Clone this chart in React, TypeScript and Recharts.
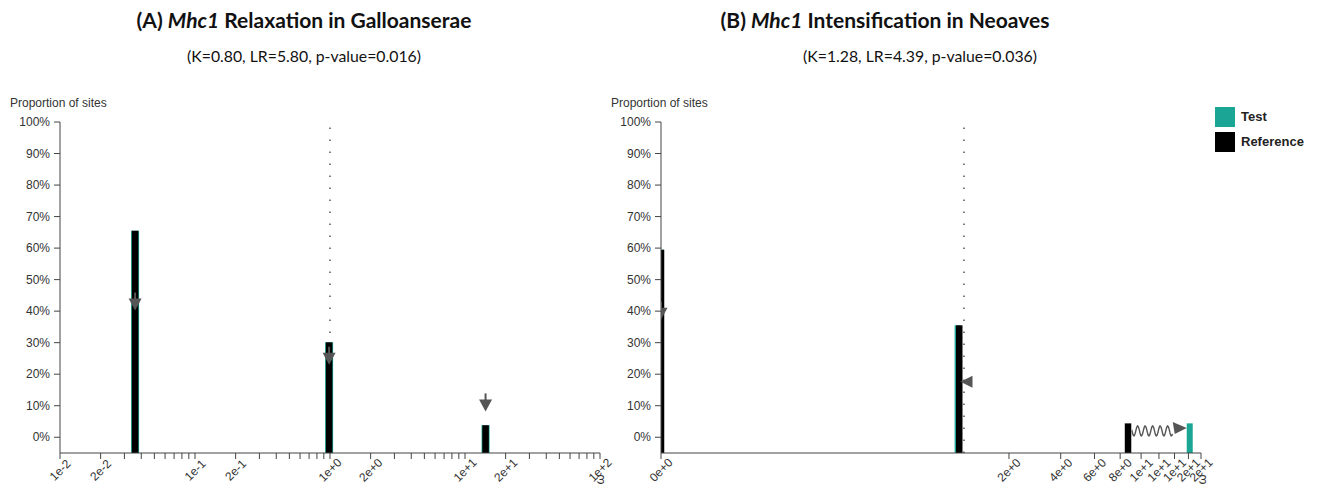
import React from "react";
import { ComposedChart, Line, Scatter, XAxis, YAxis, ReferenceLine } from "recharts";

const TEAL = "#1aa594";
const GREY = "#555";
const AXIS = "#444";
const FONT = "'Liberation Sans', Arial, sans-serif";
const TITLE_FONT = "Lato, 'Open Sans', sans-serif";

// shared proportion axis
const FLOOR = -0.05;
const yTicks = [0, 0.1, 0.2, 0.3, 0.4, 0.5, 0.6, 0.7, 0.8, 0.9, 1];

// (A) Galloanserae – log omega axis
const aRefOmega = [0.036, 0.985, 14.2];
const aRefProp = [0.655, 0.301, 0.038];
const aTestOmega = [0.036, 0.985, 14.2];
const aTestProp = [0.655, 0.301, 0.038];
const aArrowOmega = [0.036, 0.985, 14.2];
const aArrowTip = [0.402, 0.23, 0.082];
const aArrowDir = ["down", "down", "down"];
const aTicks = [
  0.01, 0.02, 0.03, 0.04, 0.05, 0.06, 0.07, 0.08, 0.09,
  0.1, 0.2, 0.3, 0.4, 0.5, 0.6, 0.7, 0.8, 0.9,
  1, 2, 3, 4, 5, 6, 7, 8, 9,
  10, 20, 30, 40, 50, 60, 70, 80, 90, 100,
];
const aLabelled = [0.01, 0.02, 0.1, 0.2, 1, 2, 10, 20, 100];

// (B) Neoaves – omega^0.2 axis
const bRefOmega = [0, 0.925, 8.71];
const bRefProp = [0.595, 0.355, 0.044];
const bTestOmega = [0, 0.9, 16.2];
const bTestProp = [0.595, 0.355, 0.044];
const bArrowOmega = [0, 0.945];
const bArrowTip = [0.373, 0.176];
const bArrowDir = ["down", "left"];
const bWave = { from: 8.71, to: 16.2, y: 0.02 };
const bTicks = [0, 2, 4, 6, 8, 10, 12, 14, 16, 18];
const bMax = 18;

const powX = (w: number) => Math.pow(w, 0.2);
const powInv = (x: number) => Math.pow(x, 5);
const ident = (w: number) => w;

function Arrow(props: any) {
  const { cx, cy, payload } = props;
  if (cx == null || cy == null) return <g />;
  if (payload.dir === "left") {
    return <polygon points={`${cx},${cy} ${cx + 12},${cy - 6} ${cx + 12},${cy + 6}`} fill={GREY} />;
  }
  return (
    <g>
      <line x1={cx} x2={cx} y1={cy - 18} y2={cy - 11} stroke={GREY} strokeWidth={2} />
      <polygon points={`${cx},${cy} ${cx - 6.5},${cy - 12} ${cx + 6.5},${cy - 12}`} fill={GREY} />
    </g>
  );
}

function Wave(props: any) {
  const { x1, x2, y1 } = props;
  const start = x1 + 4;
  const end = x2 - 3;
  const head = end - 14;
  let d = `M${start},${y1}`;
  for (let x = start; x <= head; x += 0.5) {
    d += ` L${x.toFixed(2)},${(y1 + 5 * Math.sin(((x - start) / 7.5) * 2 * Math.PI)).toFixed(2)}`;
  }
  return (
    <g>
      <path d={d} fill="none" stroke={GREY} strokeWidth={1.4} />
      <polygon points={`${end},${y1 - 3} ${head},${y1 - 9} ${head + 2},${y1 + 3}`} fill={GREY} />
    </g>
  );
}

interface PanelProps {
  left: number;
  refOmega: number[];
  refProp: number[];
  testOmega: number[];
  testProp: number[];
  arrowOmega: number[];
  arrowTip: number[];
  arrowDir: string[];
  toX: (w: number) => number;
  fromX: (x: number) => number;
  scale: "log" | "linear";
  domain: [number, number];
  ticks: number[];
  labelled: number[];
  refWidth: number;
  testWidth: number;
  wave?: { from: number; to: number; y: number };
}

function Panel(p: PanelProps) {
  const fmt = (v: number) => {
    const w = p.fromX(v);
    const hit = p.labelled.find((l) => Math.abs(l - w) < 1e-6 * Math.max(1, l));
    return hit === undefined ? "" : hit.toExponential(0);
  };
  const arrowData = p.arrowOmega.map((w, i) => ({ x: p.toX(w), y: p.arrowTip[i], dir: p.arrowDir[i] }));

  const XTick = (t: any) => {
    const label = fmt(t.payload.value);
    if (!label) return <g />;
    const cy = t.y + 9;
    return (
      <text x={t.x} y={cy} dy="0.35em" textAnchor="middle" fontSize={12} fill="#333" fontFamily={FONT}
        transform={`rotate(-45 ${t.x} ${cy})`}>
        {label}
      </text>
    );
  };

  return (
    <div style={{ position: "absolute", left: p.left, top: 0 }}>
      <ComposedChart width={620} height={493} margin={{ top: 122, right: 20, bottom: 0, left: 0 }}>
        <XAxis
          type="number"
          dataKey="x"
          scale={p.scale}
          domain={p.domain.map(p.toX) as [number, number]}
          ticks={p.ticks.map(p.toX)}
          interval={0}
          allowDataOverflow
          height={40}
          tickSize={6}
          stroke={AXIS}
          tick={XTick}
        />
        <YAxis
          type="number"
          dataKey="y"
          domain={[FLOOR, 1]}
          ticks={yTicks}
          interval={0}
          allowDataOverflow
          width={60}
          tickSize={6}
          tickMargin={4}
          stroke={AXIS}
          tickFormatter={(v: number) => `${Math.round(v * 100)}%`}
          tick={{ fontSize: 12, fill: "#333", fontFamily: FONT }}
        />
        <ReferenceLine x={p.toX(1)} stroke={GREY} strokeWidth={1.5} strokeDasharray="1.5 10.5" />
        {p.testOmega.map((w, i) => (
          <Line
            key={"t" + i}
            data={[{ x: p.toX(w), y: FLOOR }, { x: p.toX(w), y: p.testProp[i] }]}
            dataKey="y"
            type="linear"
            stroke={TEAL}
            strokeWidth={p.testWidth}
            strokeLinecap="butt"
            dot={false}
            activeDot={false}
            isAnimationActive={false}
          />
        ))}
        {p.refOmega.map((w, i) => (
          <Line
            key={"r" + i}
            data={[{ x: p.toX(w), y: FLOOR }, { x: p.toX(w), y: p.refProp[i] }]}
            dataKey="y"
            type="linear"
            stroke="#000"
            strokeWidth={p.refWidth}
            strokeLinecap="butt"
            dot={false}
            activeDot={false}
            isAnimationActive={false}
          />
        ))}
        {p.wave && (
          <ReferenceLine
            segment={[
              { x: p.toX(p.wave.from), y: p.wave.y },
              { x: p.toX(p.wave.to), y: p.wave.y },
            ]}
            shape={(s: any) => <Wave {...s} />}
          />
        )}
        <Scatter data={arrowData} dataKey="y" shape={(s: any) => <Arrow {...s} />} isAnimationActive={false} />
      </ComposedChart>
    </div>
  );
}

const abs = (left: number, top: number, extra: React.CSSProperties = {}): React.CSSProperties => ({
  position: "absolute",
  left,
  top,
  whiteSpace: "nowrap",
  ...extra,
});

export default function App() {
  return (
    <div style={{ position: "absolute", left: 0, top: 0, width: 1317, height: 493, background: "#fff", overflow: "hidden" }}>
      <div style={abs(304, 7, { transform: "translateX(-50%)", fontFamily: TITLE_FONT, fontWeight: 700, fontSize: 21, color: "#111" })}>
        (A) <i>Mhc1</i> Relaxation in Galloanserae
      </div>
      <div style={abs(304, 46, { transform: "translateX(-50%)", fontFamily: TITLE_FONT, fontSize: 15.8, color: "#111" })}>
        (K=0.80, LR=5.80, p-value=0.016)
      </div>
      <div style={abs(885, 7, { transform: "translateX(-50%)", fontFamily: TITLE_FONT, fontWeight: 700, fontSize: 21, color: "#111" })}>
        (B) <i>Mhc1</i> Intensification in Neoaves
      </div>
      <div style={abs(920, 46, { transform: "translateX(-50%)", fontFamily: TITLE_FONT, fontSize: 15.8, color: "#111" })}>
        (K=1.28, LR=4.39, p-value=0.036)
      </div>

      <div style={abs(10, 96, { fontFamily: FONT, fontSize: 12, color: "#333" })}>Proportion of sites</div>
      <div style={abs(611, 96, { fontFamily: FONT, fontSize: 12, color: "#333" })}>Proportion of sites</div>

      <Panel
        left={0}
        refOmega={aRefOmega}
        refProp={aRefProp}
        testOmega={aTestOmega}
        testProp={aTestProp}
        arrowOmega={aArrowOmega}
        arrowTip={aArrowTip}
        arrowDir={aArrowDir}
        toX={ident}
        fromX={ident}
        scale="log"
        domain={[0.01, 100]}
        ticks={aTicks}
        labelled={aLabelled}
        refWidth={6.5}
        testWidth={8}
      />
      <Panel
        left={601}
        refOmega={bRefOmega}
        refProp={bRefProp}
        testOmega={bTestOmega}
        testProp={bTestProp}
        arrowOmega={bArrowOmega}
        arrowTip={bArrowTip}
        arrowDir={bArrowDir}
        toX={powX}
        fromX={powInv}
        scale="linear"
        domain={[0, bMax]}
        ticks={bTicks}
        labelled={bTicks}
        refWidth={6.5}
        testWidth={6}
        wave={bWave}
      />

      <div style={abs(594, 472, { fontFamily: FONT, fontSize: 13, color: "#333", transform: "rotate(-90deg)" })}>ω</div>
      <div style={abs(1196, 472, { fontFamily: FONT, fontSize: 13, color: "#333", transform: "rotate(-90deg)" })}>ω</div>

      <div style={abs(1215, 107, { width: 20, height: 20, background: TEAL })} />
      <div style={abs(1215, 132, { width: 20, height: 20, background: "#000" })} />
      <div style={abs(1241, 109, { fontFamily: FONT, fontWeight: 700, fontSize: 13, color: "#222" })}>Test</div>
      <div style={abs(1241, 134, { fontFamily: FONT, fontWeight: 700, fontSize: 13, color: "#222" })}>Reference</div>
    </div>
  );
}
